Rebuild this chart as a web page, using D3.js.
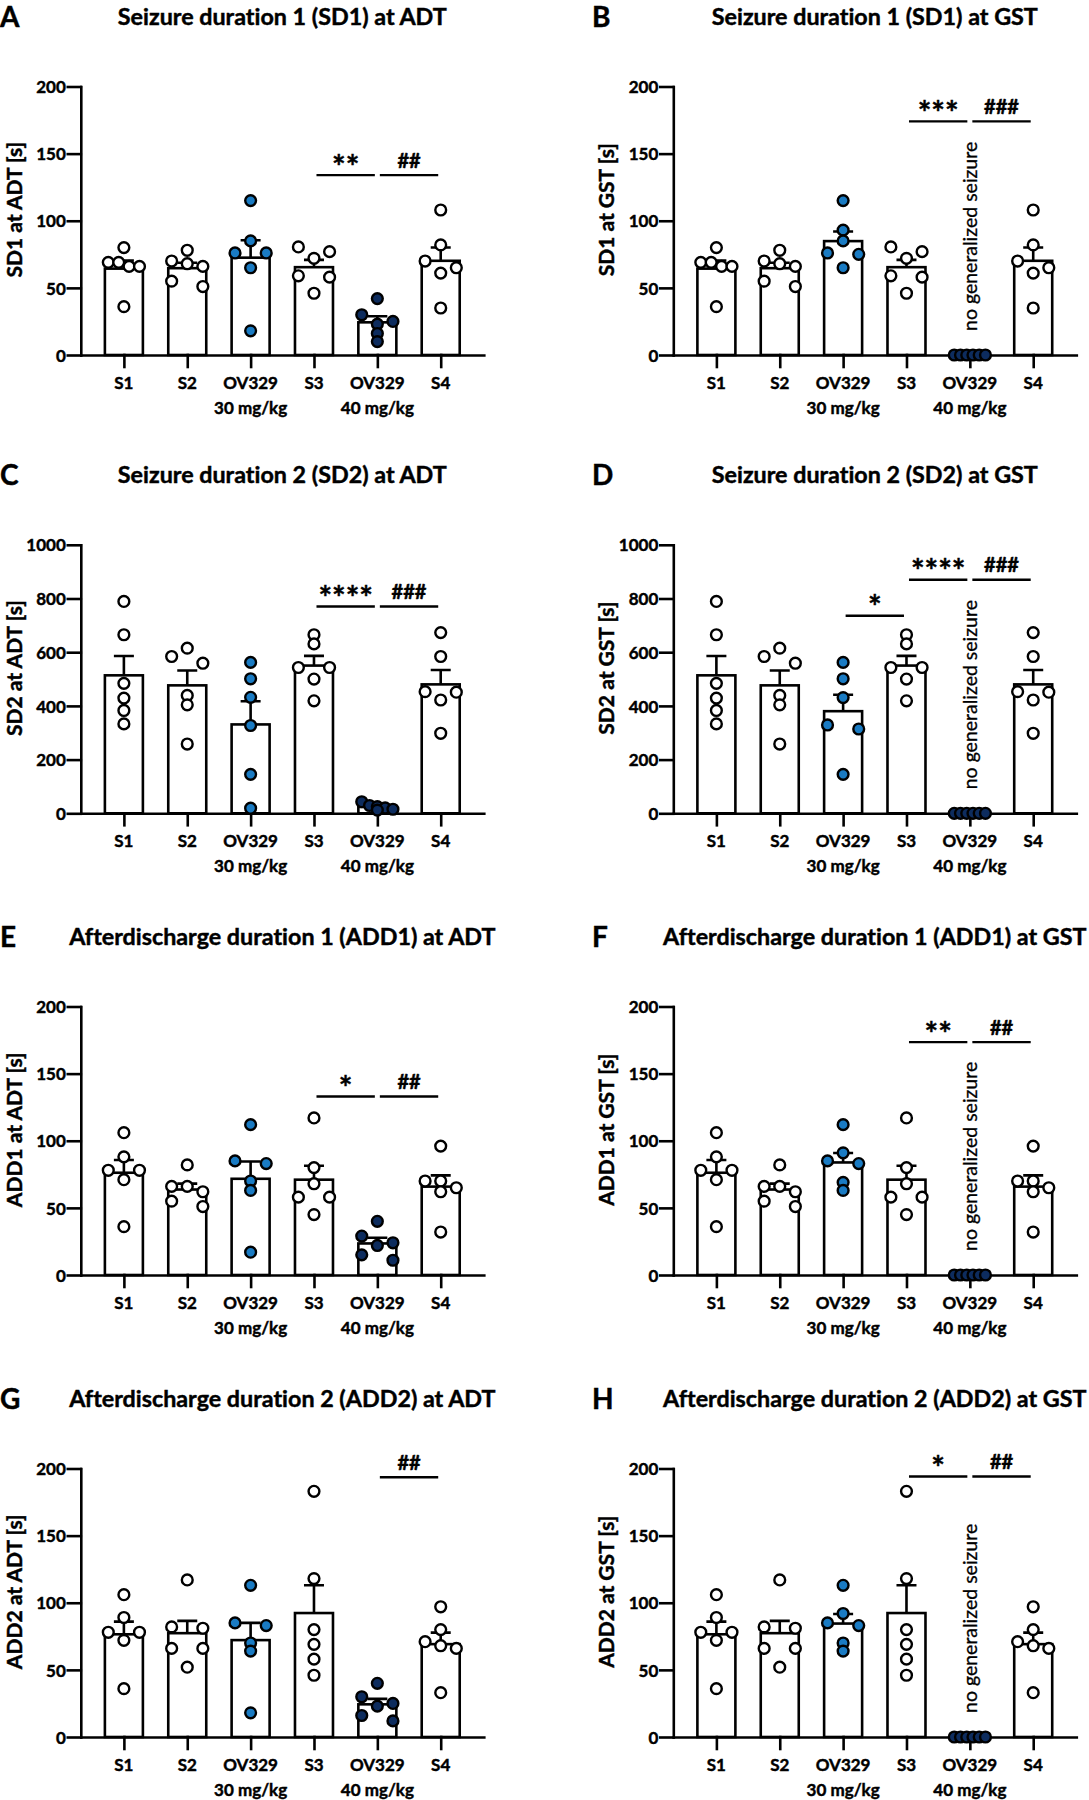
<!DOCTYPE html>
<html>
<head>
<meta charset="utf-8">
<script src="https://cdn.jsdelivr.net/npm/d3@7"></script>
<style>
  body { margin: 0; background: #fff; }
  svg { display: block; }
  text { font-family: Lato, "Open Sans", sans-serif; fill: #000;
         font-variant-ligatures: none; font-feature-settings: "liga" 0, "dlig" 0; }
  text.b { font-weight: bold; stroke: #000; stroke-width: 0.45px; }
</style>
</head>
<body>
<svg id="fig" width="1089" height="1800"></svg>
<script>
// categories (x axis)
var groupIds = ["S1", "S2", "OV30", "S3", "OV40", "S4"];
var labelTop = ["S1", "S2", "OV329", "S3", "OV329", "S4"];
var labelBottom = ["", "", "30 mg/kg", "", "40 mg/kg", ""];

// y tick labels
var ticks200 = [0, 50, 100, 150, 200];
var ticks1000 = [0, 200, 400, 600, 800, 1000];

// seizure duration 1 [s]
var sd1_S1 = [80, 69, 66, 66, 69, 36];
var sd1_S2 = [78, 70, 66, 68, 51, 55];
var sd1_S3 = [80.5, 77, 72, 59, 58, 46];
var sd1_S4 = [108, 82, 70, 65, 61, 35];
var sd1_ov30_adt = [115, 85, 76, 76, 65, 18];
var sd1_ov40_adt = [42, 30, 25, 23, 16, 10];
var sd1_ov30_gst = [115, 93, 85, 76, 75, 65];
var sd1_ov40_gst = [0, 0, 0, 0, 0, 0];

// seizure duration 2 [s]
var sd2_S1 = [789, 665, 484, 429, 383, 333];
var sd2_S2 = [615, 584, 559, 439, 404, 258];
var sd2_S3 = [665, 631, 543, 543, 500, 419];
var sd2_S4 = [673, 584, 453, 451, 422, 298];
var sd2_ov30_adt = [562, 501, 432, 327, 145, 19];
var sd2_ov40_adt = [43, 29, 25, 20, 15, 12];
var sd2_ov30_gst = [562, 501, 431, 329, 314, 145];
var sd2_ov40_gst = [0, 0, 0, 0, 0, 0];

// afterdischarge duration 1 [s]
var add1_S1 = [106, 88, 78, 78, 71, 36];
var add1_S2 = [82, 66, 66, 62, 55, 51];
var add1_S3 = [117, 80, 68, 58, 58, 45];
var add1_S4 = [96, 70, 70, 65, 62, 32];
var add1_ov30_adt = [112, 85, 83, 70, 63, 17];
var add1_ov40_adt = [40, 29, 24, 22, 15, 11];
var add1_ov30_gst = [112, 91, 85, 83, 69, 63];
var add1_ov40_gst = [0, 0, 0, 0, 0, 0];

// afterdischarge duration 2 [s]
var add2_S1 = [106, 89, 78, 78, 72, 36];
var add2_S2 = [117, 82, 81, 66, 66, 52];
var add2_S3 = [183, 118, 80, 69, 58, 46];
var add2_S4 = [97, 80, 71, 68, 66, 33];
var add2_ov30_adt = [113, 85, 83, 70, 64, 18];
var add2_ov40_adt = [40, 30, 25, 23, 16, 12];
var add2_ov30_gst = [113, 92, 85, 83, 70, 64];
var add2_ov40_gst = [0, 0, 0, 0, 0, 0];

// significance bars: [from, to, label, height in data units]
var sigA = [["S3", "OV40", "**", 134], ["OV40", "S4", "##", 134]];
var sigB = [["S3", "OV40", "***", 174], ["OV40", "S4", "###", 174]];
var sigC = [["S3", "OV40", "****", 770], ["OV40", "S4", "###", 770]];
var sigD = [["OV30", "S3", "*", 736], ["S3", "OV40", "****", 870], ["OV40", "S4", "###", 870]];
var sigE = [["S3", "OV40", "*", 133], ["OV40", "S4", "##", 133]];
var sigF = [["S3", "OV40", "**", 173.5], ["OV40", "S4", "##", 173.5]];
var sigG = [["OV40", "S4", "##", 193.5]];
var sigH = [["S3", "OV40", "*", 194], ["OV40", "S4", "##", 194]];

var panels = [
  {letter: "A", title: "Seizure duration 1 (SD1) at ADT", ylab: "SD1 at ADT [s]", ticks: ticks200,
   values: [sd1_S1, sd1_S2, sd1_ov30_adt, sd1_S3, sd1_ov40_adt, sd1_S4], sig: sigA, none: false},
  {letter: "B", title: "Seizure duration 1 (SD1) at GST", ylab: "SD1 at GST [s]", ticks: ticks200,
   values: [sd1_S1, sd1_S2, sd1_ov30_gst, sd1_S3, sd1_ov40_gst, sd1_S4], sig: sigB, none: true},
  {letter: "C", title: "Seizure duration 2 (SD2) at ADT", ylab: "SD2 at ADT [s]", ticks: ticks1000,
   values: [sd2_S1, sd2_S2, sd2_ov30_adt, sd2_S3, sd2_ov40_adt, sd2_S4], sig: sigC, none: false},
  {letter: "D", title: "Seizure duration 2 (SD2) at GST", ylab: "SD2 at GST [s]", ticks: ticks1000,
   values: [sd2_S1, sd2_S2, sd2_ov30_gst, sd2_S3, sd2_ov40_gst, sd2_S4], sig: sigD, none: true},
  {letter: "E", title: "Afterdischarge duration 1 (ADD1) at ADT", ylab: "ADD1 at ADT [s]", ticks: ticks200,
   values: [add1_S1, add1_S2, add1_ov30_adt, add1_S3, add1_ov40_adt, add1_S4], sig: sigE, none: false},
  {letter: "F", title: "Afterdischarge duration 1 (ADD1) at GST", ylab: "ADD1 at GST [s]", ticks: ticks200,
   values: [add1_S1, add1_S2, add1_ov30_gst, add1_S3, add1_ov40_gst, add1_S4], sig: sigF, none: true},
  {letter: "G", title: "Afterdischarge duration 2 (ADD2) at ADT", ylab: "ADD2 at ADT [s]", ticks: ticks200,
   values: [add2_S1, add2_S2, add2_ov30_adt, add2_S3, add2_ov40_adt, add2_S4], sig: sigG, none: false},
  {letter: "H", title: "Afterdischarge duration 2 (ADD2) at GST", ylab: "ADD2 at GST [s]", ticks: ticks200,
   values: [add2_S1, add2_S2, add2_ov30_gst, add2_S3, add2_ov40_gst, add2_S4], sig: sigH, none: true}
];

// layout
var colX = [80.8, 673.3];
var letterX = [0, 592];
var axisW = 403;
var rowZero = [355, 813.3, 1275, 1737];
var plotH = 268.5;
var barW = 38;
var lw = 2.6;
var dotR = 5.4;
var spread = 15.6;
var fills = ["#fff", "#fff", "#1a7bc3", "#fff", "#0d2c5e", "#fff"];

var svg = d3.select("#fig");
svg.append("rect").attr("width", 1089).attr("height", 1800).attr("fill", "#fff");

// points that sit at (nearly) the same height share a row and are spread evenly
function scatterRows(vals, y) {
  var pts = vals.map(function(v) { return {v: v, py: y(v)}; });
  pts.sort(function(a, b) { return b.v - a.v; });
  var rows = [];
  pts.forEach(function(p) {
    var last = rows[rows.length - 1];
    if (last && Math.abs(p.py - last[0].py) < 8) last.push(p);
    else rows.push([p]);
  });
  rows.forEach(function(r) {
    r.forEach(function(p, i) {
      p.dx = r.length > 1 ? -spread + 2 * spread * i / (r.length - 1) : 0;
    });
  });
  return pts;
}

panels.forEach(function(pn, idx) {
  var col = idx % 2, row = Math.floor(idx / 2);
  var x0 = colX[col], x1 = x0 + axisW;
  var y0 = rowZero[row], yT = y0 - plotH;

  var x = d3.scalePoint().domain(groupIds).range([x0, x1]).padding(0.68);
  var y = d3.scaleLinear().domain([0, d3.max(pn.ticks)]).range([y0, yT]);
  var g = svg.append("g");

  var stats = groupIds.map(function(id, i) {
    var v = pn.values[i];
    return {id: id, i: i, vals: v, mean: d3.mean(v), sem: d3.deviation(v) / Math.sqrt(v.length)};
  });

  // panel letter and title
  g.append("text").attr("class", "b").attr("x", letterX[col]).attr("y", yT - 59.5)
    .attr("font-size", 28).text(pn.letter);
  g.append("text").attr("class", "b").attr("x", (x0 + x1) / 2).attr("y", yT - 61.5)
    .attr("text-anchor", "middle").attr("font-size", 23.3).text(pn.title);

  // bars
  g.selectAll("rect.bar").data(stats).join("rect").attr("class", "bar")
    .attr("x", function(d) { return x(d.id) - barW / 2; })
    .attr("y", function(d) { return y(d.mean); })
    .attr("width", barW)
    .attr("height", function(d) { return y0 - y(d.mean); })
    .attr("fill", "#fff").attr("stroke", "#000").attr("stroke-width", lw);

  // error bars (mean + SEM)
  g.selectAll("path.err").data(stats.filter(function(d) { return d.sem > 0; })).join("path")
    .attr("class", "err")
    .attr("d", function(d) {
      var cx = x(d.id), ym = y(d.mean), ys = y(d.mean + d.sem);
      return "M" + cx + "," + ym + "V" + ys + "M" + (cx - 10) + "," + ys + "H" + (cx + 10);
    })
    .attr("fill", "none").attr("stroke", "#000").attr("stroke-width", lw);

  // axes
  var ya = g.append("g").attr("transform", "translate(" + x0 + ",0)")
    .call(d3.axisLeft(y).tickValues(pn.ticks).tickFormat(d3.format("d"))
      .tickSize(13).tickSizeOuter(0).tickPadding(2));
  var xa = g.append("g").attr("transform", "translate(0," + y0 + ")")
    .call(d3.axisBottom(x).tickSize(12).tickSizeOuter(0).tickFormat(""));
  [ya, xa].forEach(function(a) {
    a.attr("font-family", null).attr("font-size", null);
    a.selectAll("path, line").attr("stroke", "#000").attr("stroke-width", lw)
      .attr("stroke-linecap", "square");
  });
  ya.selectAll("text").attr("class", "b").attr("font-size", 17).attr("fill", "#000")
    .attr("dy", "0.36em");

  g.selectAll("text.xl1").data(stats).join("text").attr("class", "xl1 b")
    .attr("x", function(d) { return x(d.id); }).attr("y", y0 + 34)
    .attr("text-anchor", "middle").attr("font-size", 17)
    .text(function(d) { return labelTop[d.i]; });
  g.selectAll("text.xl2").data(stats.filter(function(d) { return labelBottom[d.i]; })).join("text")
    .attr("class", "xl2 b")
    .attr("x", function(d) { return x(d.id); }).attr("y", y0 + 59)
    .attr("text-anchor", "middle").attr("font-size", 17)
    .text(function(d) { return labelBottom[d.i]; });

  // y axis title
  g.append("text").attr("class", "b")
    .attr("transform", "translate(" + (x0 - 59) + "," + ((y0 + yT) / 2 - 11) + ") rotate(-90)")
    .attr("text-anchor", "middle").attr("font-size", 21).text(pn.ylab);

  // individual animals
  stats.forEach(function(d) {
    var pts = scatterRows(d.vals, y);
    g.selectAll(null).data(pts).join("circle")
      .attr("cx", function(p) { return x(d.id) + p.dx; })
      .attr("cy", function(p) { return p.py; })
      .attr("r", dotR)
      .attr("fill", fills[d.i]).attr("stroke", "#000").attr("stroke-width", 2.4);
  });

  if (pn.none) {
    g.append("text")
      .attr("transform", "translate(" + (x("OV40") + 7) + "," + (y0 - 24) + ") rotate(-90)")
      .attr("font-size", 19.5).attr("stroke", "#000").attr("stroke-width", 0.3)
      .text("no generalized seizure");
  }

  // significance
  pn.sig.forEach(function(s) {
    var xa0 = x(s[0]) + 2.5, xb = x(s[1]) - 2.5, ys = y(s[3]);
    g.append("line").attr("x1", xa0).attr("x2", xb).attr("y1", ys).attr("y2", ys)
      .attr("stroke", "#000").attr("stroke-width", 2.4);
    var star = s[2].charAt(0) === "*";
    g.append("text").attr("class", "b").attr("x", (xa0 + xb) / 2)
      .attr("y", star ? ys + 3.5 : ys - 7.5)
      .attr("text-anchor", "middle")
      .attr("font-family", star ? "DejaVu Sans" : "Lato")
      .attr("font-size", star ? 32 : 20)
      .text(s[2]);
  });
});
</script>
</body>
</html>
